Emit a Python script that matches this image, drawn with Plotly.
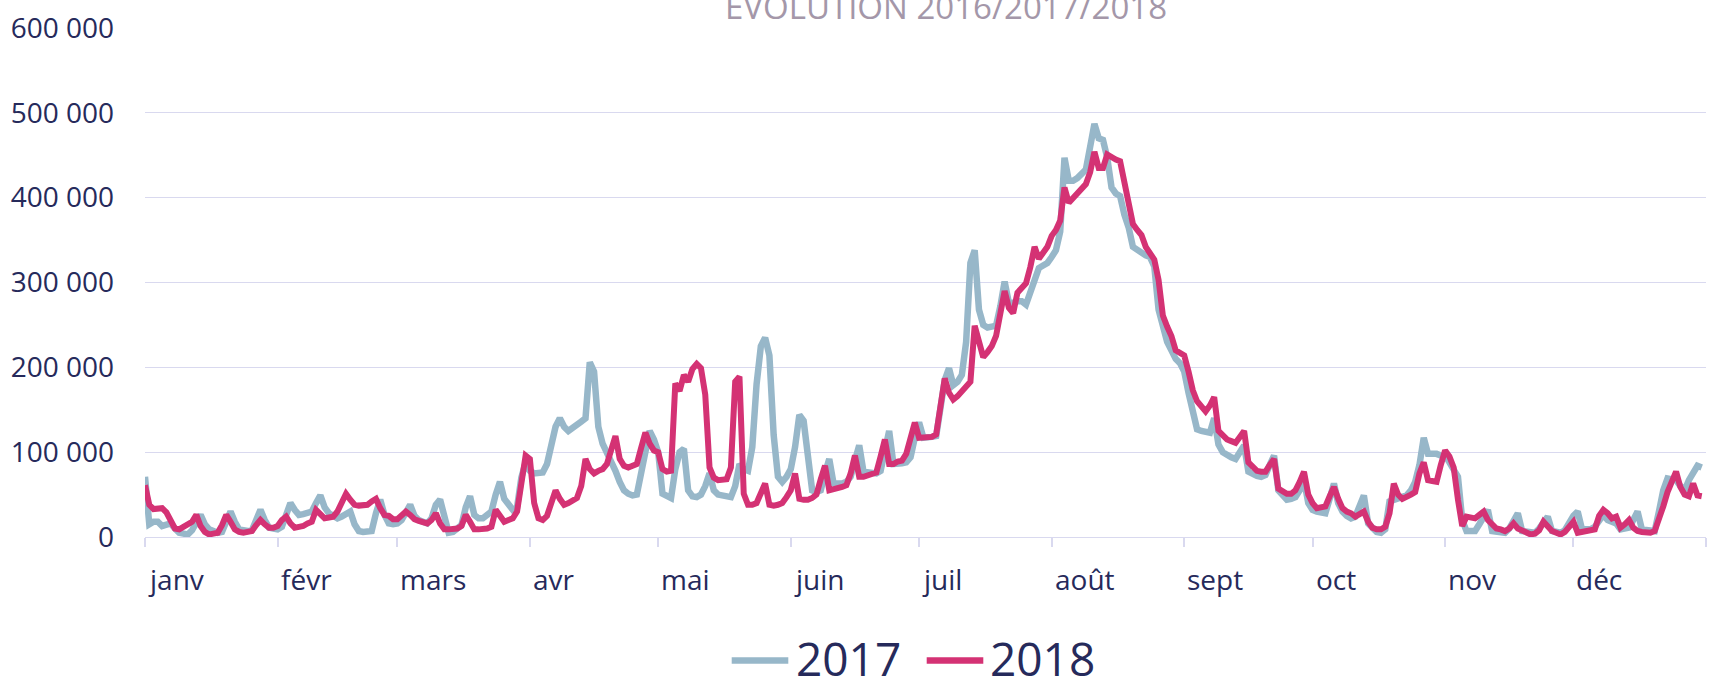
import pandas as pd
import plotly.graph_objects as go

# French month labels for the x axis
month_labels = ["janv", "févr", "mars", "avr", "mai", "juin",
                "juil", "août", "sept", "oct", "nov", "déc"]

y_ticks = [0, 100000, 200000, 300000, 400000, 500000, 600000]
y_tick_text = ["0", "100 000", "200 000", "300 000", "400 000", "500 000", "600 000"]

# daily values (thousands) - 2017
jan_2017 = [71, 15, 18, 18, 13, 14, 16, 10, 5, 4, 3, 8, 18, 26, 15, 9, 7, 5, 6, 18, 30, 18, 9, 8, 7, 8, 20, 32, 20, 11, 10]
feb_2017 = [9, 12, 28, 40, 32, 26, 27, 28, 30, 40, 49, 35, 28, 25, 22, 24, 28, 30, 15, 7, 6, 6, 7, 28, 44, 26, 16, 15]
mar_2017 = [16, 20, 30, 38, 25, 20, 18, 16, 22, 38, 44, 26, 5, 6, 9, 14, 35, 48, 26, 22, 22, 25, 30, 50, 65, 45, 38, 32, 35, 70, 88]
apr_2017 = [78, 75, 75, 76, 86, 110, 130, 140, 130, 125, 128, 131, 136, 140, 206, 195, 130, 110, 100, 90, 78, 65, 55, 51, 49, 50, 75, 105, 125, 115]
may_2017 = [100, 51, 48, 46, 80, 100, 104, 55, 48, 47, 50, 60, 75, 55, 50, 49, 48, 47, 60, 86, 80, 78, 106, 180, 225, 235, 214, 120, 71, 65, 71]
jun_2017 = [80, 106, 144, 137, 90, 55, 53, 55, 75, 92, 63, 63, 63, 65, 71, 90, 108, 77, 76, 75, 75, 78, 100, 125, 86, 86, 87, 88, 94, 117]
jul_2017 = [135, 117, 117, 118, 119, 150, 185, 199, 179, 183, 191, 230, 323, 338, 268, 250, 247, 248, 249, 272, 301, 276, 276, 278, 278, 274, 290, 307, 317, 320, 323]
aug_2017 = [330, 338, 360, 447, 420, 420, 423, 428, 433, 460, 487, 470, 468, 447, 412, 405, 402, 380, 365, 342, 338, 334, 332, 330, 319, 268, 245, 230, 220, 210, 205]
sep_2017 = [195, 170, 152, 127, 125, 124, 123, 140, 109, 100, 96, 94, 92, 100, 108, 77, 74, 72, 71, 73, 85, 96, 55, 48, 44, 45, 47, 55, 67, 40]
oct_2017 = [32, 30, 28, 28, 45, 63, 40, 30, 25, 22, 24, 35, 49, 16, 10, 6, 5, 9, 42, 44, 45, 47, 49, 55, 65, 85, 117, 98, 98, 98, 96]
nov_2017 = [96, 88, 80, 71, 20, 7, 7, 7, 15, 25, 32, 7, 6, 5, 5, 10, 20, 28, 7, 6, 5, 5, 10, 18, 24, 7, 6, 5, 8, 18]
dec_2017 = [25, 30, 9, 9, 9, 12, 20, 26, 20, 18, 16, 9, 10, 11, 20, 30, 9, 8, 7, 7, 30, 55, 69, 68, 67, 60, 55, 67, 75, 84, 82]

# daily values (thousands) - 2018
jan_2018 = [61, 38, 33, 34, 34, 29, 18, 10, 9, 12, 15, 18, 26, 13, 6, 3, 4, 5, 14, 26, 18, 9, 6, 5, 6, 7, 14, 20, 15, 11, 11]
feb_2018 = [13, 20, 24, 16, 11, 12, 13, 16, 18, 32, 27, 22, 23, 24, 30, 42, 51, 44, 38, 37, 38, 38, 42, 45, 34, 26, 25, 21]
mar_2018 = [21, 25, 30, 26, 21, 19, 17, 16, 20, 28, 16, 9, 9, 9, 10, 13, 26, 18, 9, 9, 9, 10, 12, 32, 25, 18, 20, 22, 30, 60, 96]
apr_2018 = [92, 40, 22, 20, 25, 40, 55, 45, 38, 40, 43, 46, 60, 92, 80, 75, 78, 80, 86, 100, 119, 92, 84, 82, 84, 86, 105, 123, 110, 102]
may_2018 = [100, 80, 77, 78, 181, 172, 191, 183, 198, 204, 199, 168, 82, 70, 67, 67, 68, 82, 183, 189, 51, 38, 38, 40, 50, 63, 38, 37, 38, 40, 47]
jun_2018 = [55, 75, 45, 44, 44, 46, 50, 68, 84, 55, 56, 58, 59, 61, 75, 96, 71, 71, 73, 74, 76, 95, 115, 86, 86, 89, 90, 98, 115, 135]
jul_2018 = [117, 117, 117, 118, 121, 150, 187, 170, 162, 166, 171, 177, 183, 249, 230, 212, 218, 225, 237, 262, 290, 270, 264, 288, 294, 299, 318, 342, 328, 335, 342]
aug_2018 = [355, 362, 373, 412, 394, 400, 406, 410, 416, 430, 454, 435, 435, 451, 447, 445, 443, 420, 395, 369, 362, 356, 342, 335, 327, 303, 261, 248, 237, 220, 217]
sep_2018 = [214, 195, 173, 160, 153, 148, 155, 165, 125, 120, 115, 113, 111, 118, 125, 88, 82, 78, 77, 77, 85, 92, 57, 54, 51, 51, 55, 65, 77, 50]
oct_2018 = [40, 34, 35, 36, 48, 59, 45, 34, 30, 28, 24, 27, 30, 18, 11, 9, 9, 12, 28, 63, 50, 45, 47, 50, 53, 75, 88, 67, 66, 65, 85]
nov_2018 = [102, 95, 82, 44, 13, 24, 23, 22, 26, 30, 20, 15, 10, 9, 7, 10, 16, 10, 7, 5, 3, 4, 8, 18, 12, 7, 5, 3, 6, 11]
dec_2018 = [18, 5, 6, 7, 7, 9, 25, 32, 28, 22, 24, 11, 15, 20, 11, 7, 6, 5, 5, 7, 20, 36, 53, 65, 77, 59, 50, 48, 63, 49, 48]

months_2017 = [jan_2017, feb_2017, mar_2017, apr_2017, may_2017, jun_2017,
               jul_2017, aug_2017, sep_2017, oct_2017, nov_2017, dec_2017]
months_2018 = [jan_2018, feb_2018, mar_2018, apr_2018, may_2018, jun_2018,
               jul_2018, aug_2018, sep_2018, oct_2018, nov_2018, dec_2018]

values_2017 = [v * 1000 for m in months_2017 for v in m]
values_2018 = [v * 1000 for m in months_2018 for v in m]

# both years drawn on one generic calendar year
days = pd.date_range("2018-01-01", periods=365, freq="D")
month_starts = pd.date_range("2018-01-01", periods=13, freq="MS")

TEXT = "#262A5B"
GRID = "#D9D9EF"
BLUE = "#97B7C9"
PINK = "#D43274"
FONT = "Open Sans"

fig = go.Figure()
fig.add_trace(go.Scatter(x=days, y=values_2017, mode="lines", name="2017",
                         line=dict(color=BLUE, width=6.5)))
fig.add_trace(go.Scatter(x=days, y=values_2018, mode="lines", name="2018",
                         line=dict(color=PINK, width=6)))

fig.update_layout(
    width=1714, height=681,
    margin=dict(l=145, r=8, t=21, b=144),
    paper_bgcolor="white", plot_bgcolor="white",
    showlegend=False,
    font=dict(family=FONT, color=TEXT, size=28),
)

fig.update_xaxes(
    range=[month_starts[0], month_starts[-1]],
    tickvals=month_starts, showticklabels=False,
    ticks="outside", ticklen=9, tickwidth=1.5, tickcolor=GRID,
    showgrid=False, showline=False, zeroline=False,
)
fig.update_yaxes(
    range=[0, 600000], tickvals=y_ticks, ticktext=y_tick_text,
    tickfont=dict(size=28, color=TEXT),
    showgrid=True, gridcolor=GRID, gridwidth=1.4,
    zeroline=True, zerolinecolor=GRID, zerolinewidth=1.4,
    ticks="", ticklabelstandoff=30,
)

# month labels, left aligned on each month start (Excel style)
for label, start in zip(month_labels, month_starts[:-1]):
    fig.add_annotation(x=start, y=-0.082, xref="x", yref="paper",
                       text=label, showarrow=False, xanchor="left",
                       yanchor="middle", xshift=1,
                       font=dict(size=28, color=TEXT, family=FONT))

# title, mostly cut at the top edge like in the source
fig.add_annotation(x=0.513, y=0.995, xref="paper", yref="paper",
                   text="EVOLUTION 2016/2017/2018", showarrow=False,
                   xanchor="center", yanchor="bottom",
                   font=dict(size=33, color="#A497A9", family=FONT))

# legend drawn by hand to get the long Excel line samples
legend_items = [("2017", BLUE, 731.7, 794), ("2018", PINK, 926.7, 988.3)]
plot_w = 1714 - 145 - 8
plot_h = 681 - 21 - 144
for name, color, line_x0, text_x in legend_items:
    ly = (537 - 662.3) / plot_h
    fig.add_shape(type="line", xref="paper", yref="paper",
                  x0=(line_x0 - 145) / plot_w, x1=(line_x0 + 56.6 - 145) / plot_w,
                  y0=ly, y1=ly, line=dict(color=color, width=6.5))
    fig.add_annotation(x=(text_x - 145) / plot_w, y=(537 - 660) / plot_h,
                       xref="paper", yref="paper", text=name, showarrow=False,
                       xanchor="left", yanchor="middle",
                       font=dict(size=46, color=TEXT, family=FONT))

# drop the default page margin so the chart sits at the window corner
fig.write_html("out.html", config={"displayModeBar": False},
               post_script="document.body.style.margin='0';")
